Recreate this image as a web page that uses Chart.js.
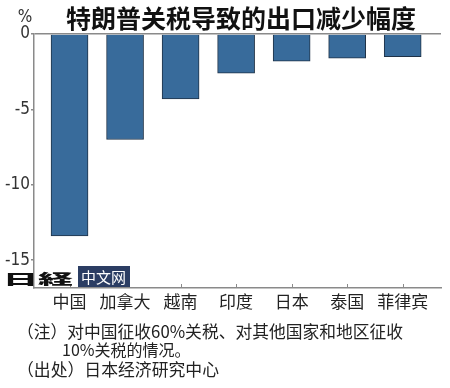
<!DOCTYPE html>
<html>
<head>
<meta charset="utf-8">
<script src="https://cdn.jsdelivr.net/npm/chart.js@4"></script>
<style>
  html, body { margin: 0; padding: 0; background: #fff; }
  #wrap { width: 450px; height: 388px; position: relative; }
</style>
</head>
<body>
<div id="wrap"><canvas id="c"></canvas></div>
<script>
// 各国出口减少幅度（%）
var countries = ['中国', '加拿大', '越南', '印度', '日本', '泰国', '菲律宾'];
var drops = [-13.4, -7.0, -4.3, -2.6, -1.8, -1.6, -1.5];
var yTicks = [0, -5, -10, -15];

var titleText = '特朗普关税导致的出口减少幅度';
var unitText = '%';
var noteLines = [
    '（注）对中国征收60%关税、对其他国家和地区征收',
    '10%关税的情况。',
    '（出处）日本经济研究中心'
];

var CJK = '"Noto Sans CJK SC", "Noto Sans", sans-serif';
var NARROW = '"Liberation Sans Narrow", "DejaVu Sans Condensed", sans-serif';
var axisGray = '#8a8a8a';

// 标题、注释、logo、x轴小刻度
var decor = {
    id: 'decor',
    afterDraw: function(chart){
        var ctx = chart.ctx;
        var xs = chart.scales.x;
        var area = chart.chartArea;
        ctx.save();
        // x轴刻度（向上）
        ctx.strokeStyle = axisGray;
        ctx.lineWidth = 1;
        countries.forEach(function(c, i){
            var px = Math.round(xs.getPixelForValue(i)) + 0.5;
            ctx.beginPath();
            ctx.moveTo(px, area.bottom);
            ctx.lineTo(px, area.bottom - 4);
            ctx.stroke();
        });
        // 标题
        ctx.fillStyle = '#111';
        ctx.textBaseline = 'middle';
        ctx.textAlign = 'center';
        ctx.font = 'bold 25px ' + CJK;
        ctx.fillText(titleText, 241, 18);
        // 单位
        ctx.font = '17px ' + NARROW;
        ctx.fillStyle = '#333';
        ctx.fillText(unitText, 25, 18);
        // 注释
        ctx.textAlign = 'left';
        ctx.fillStyle = '#222';
        ctx.font = '17px ' + CJK;
        ctx.fillText(noteLines[0], 17, 332, 386);
        ctx.font = '16px ' + CJK;
        ctx.fillText(noteLines[1], 62, 350);
        ctx.font = '17px ' + CJK;
        ctx.fillText(noteLines[2], 17, 370, 202);
        // logo
        ctx.fillStyle = '#2b3d63';
        ctx.fillRect(78, 266, 52, 21);
        ctx.fillStyle = '#fff';
        ctx.font = '15px ' + CJK;
        ctx.fillText('中文网', 81, 277);
        ctx.fillStyle = '#111';
        ctx.font = '900 14px "Noto Sans CJK JP", sans-serif';
        ctx.translate(3, 279);
        ctx.scale(2.5, 0.95);
        ctx.fillText('日経', 0, 0);
        ctx.restore();
    }
};

var chart = new Chart(document.getElementById('c'), {
    type: 'bar',
    data: {
        datasets: [{
            data: drops.map(function(v, i){ return {x: i, y: v}; }),
            backgroundColor: '#386b9b',
            borderColor: '#1f3247',
            borderWidth: 1,
            barThickness: 37
        }]
    },
    options: {
        responsive: true,
        maintainAspectRatio: false,
        animation: false,
        layout: { padding: { top: 34, right: 9, bottom: 0, left: 0 } },
        plugins: {
            legend: { display: false },
            tooltip: { enabled: false }
        },
        scales: {
            x: {
                type: 'linear',
                min: -0.64,
                max: 6.69,
                offset: false,
                afterFit: function(s){ s.height = 100; },
                afterBuildTicks: function(s){
                    s.ticks = countries.map(function(c, i){ return {value: i}; });
                },
                grid: { display: true, offset: false, drawOnChartArea: false, drawTicks: false },
                border: { display: true, color: axisGray, width: 1.5 },
                ticks: {
                    autoSkip: false,
                    maxRotation: 0,
                    padding: 3,
                    color: '#222',
                    font: { family: CJK, size: 17 },
                    callback: function(v){ return countries[v] || ''; }
                }
            },
            y: {
                min: -16.85,
                max: 0,
                afterFit: function(s){ s.width = 34; },
                afterBuildTicks: function(s){
                    s.ticks = yTicks.map(function(v){ return {value: v}; });
                },
                grid: {
                    color: function(c){ return c.tick && c.tick.value === 0 ? axisGray : 'rgba(0,0,0,0)'; },
                    lineWidth: 1.5,
                    tickColor: axisGray,
                    tickLength: 3
                },
                border: { display: true, color: axisGray, width: 1.5 },
                ticks: {
                    padding: 1,
                    color: '#333',
                    font: { family: NARROW, size: 17 }
                }
            }
        }
    },
    plugins: [decor]
});
</script>
</body>
</html>
